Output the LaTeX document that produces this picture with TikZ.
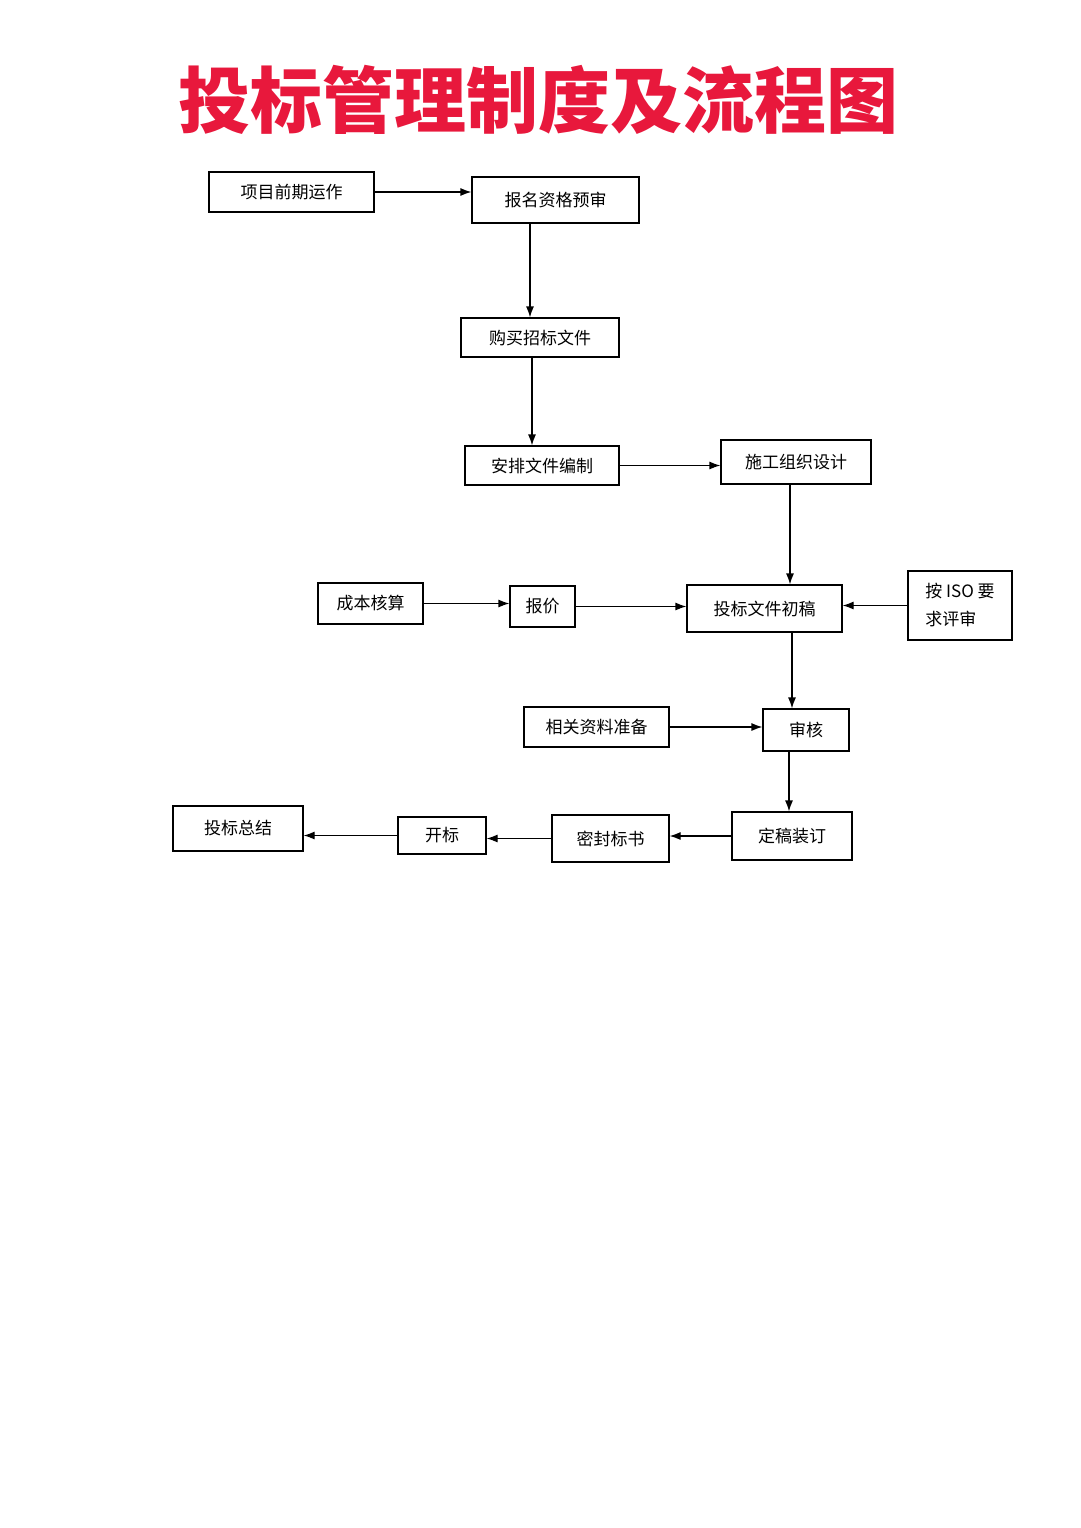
\documentclass[tikz,border=0pt]{standalone}
\usepackage{fontspec}
\newfontfamily\cjk{Noto Sans CJK SC}
\usetikzlibrary{arrows.meta}
\definecolor{titlered}{HTML}{E8183C}
\begin{document}
\begin{tikzpicture}[x=1pt,y=-1pt,
  box/.style={draw,line width=1.2pt,inner sep=0pt,font=\cjk\fontsize{17}{20}\selectfont},
  arr/.style={-{Latex[length=11pt,width=8pt]},line width=1.2pt}]
\useasboundingbox[fill=white] (0,0) rectangle (1080,1528);
\node[text=titlered,font=\cjk\bfseries\fontsize{72}{80}\selectfont] (title) at (538,100) {投标管理制度及流程图};
\newcommand\bx[6]{\node[box,minimum width=#4-#2,minimum height=#5-#3] (#1) at ({(#2+#4)/2},{(#3+#5)/2}) {#6};}
\bx{a}{209}{172}{374}{212}{项目前期运作}
\bx{b}{472}{177}{639}{223}{报名资格预审}
\bx{c}{461}{318}{619}{357}{购买招标文件}
\bx{d}{465}{446}{619}{485}{安排文件编制}
\bx{e}{721}{440}{871}{484}{施工组织设计}
\bx{f}{318}{583}{423}{624}{成本核算}
\bx{g}{510}{586}{575}{627}{报价}
\bx{h}{687}{585}{842}{632}{投标文件初稿}
\node[box,minimum width=104,minimum height=69,align=left,font=\cjk\fontsize{17}{28}\selectfont] (i) at (960,605.5) {按 ISO 要\\求评审};
\bx{j}{524}{707}{669}{747}{相关资料准备}
\bx{k}{763}{709}{849}{751}{审核}
\bx{l}{732}{812}{852}{860}{定稿装订}
\bx{m}{552}{815}{669}{862}{密封标书}
\bx{n}{398}{817}{486}{854}{开标}
\bx{o}{173}{806}{303}{851}{投标总结}
\draw[arr] (a.east) -- (b.west |- a.east);
\draw[arr] (530,223) -- (c.north -| 530,0);
\draw[arr] (532,357) -- (d.north -| 532,0);
\draw[arr] (d.east) -- (e.west |- d.east);
\draw[arr] (790,484) -- (h.north -| 790,0);
\draw[arr] (f.east) -- (g.west |- f.east);
\draw[arr] (g.east) -- (h.west |- g.east);
\draw[arr] (i.west) -- (h.east |- i.west);
\draw[arr] (792,632) -- (k.north -| 792,0);
\draw[arr] (j.east) -- (k.west |- j.east);
\draw[arr] (789,751) -- (l.north -| 789,0);
\draw[arr] (l.west) -- (m.east |- l.west);
\draw[arr] (m.west) -- (n.east |- m.west);
\draw[arr] (n.west) -- (o.east |- n.west);
\end{tikzpicture}
\end{document}
